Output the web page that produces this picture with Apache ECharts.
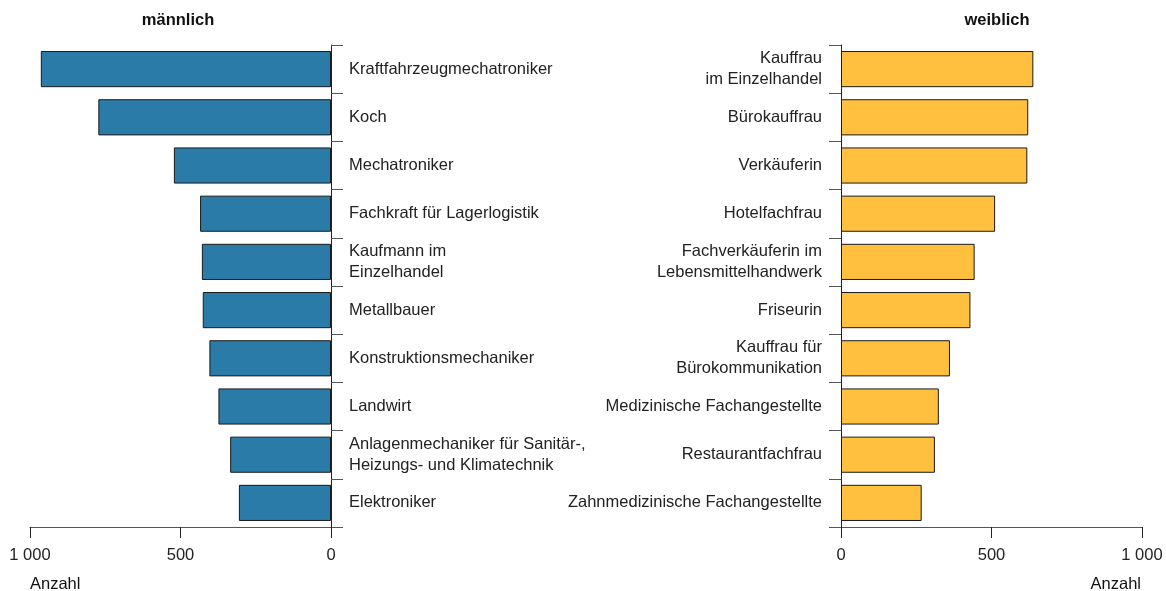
<!DOCTYPE html>
<html>
<head>
<meta charset="utf-8">
<script src="https://cdn.jsdelivr.net/npm/echarts@6/dist/echarts.min.js"></script>
<style>
  html, body { margin: 0; padding: 0; background: #fff; }
  #chart { width: 1166px; height: 591px; }
</style>
</head>
<body>
<div id="chart"></div>
<script>
// Ausbildungsberufe – männlich
const maleJobs = [
  'Kraftfahrzeugmechatroniker',
  'Koch',
  'Mechatroniker',
  'Fachkraft für Lagerlogistik',
  'Kaufmann im\nEinzelhandel',
  'Metallbauer',
  'Konstruktionsmechaniker',
  'Landwirt',
  'Anlagenmechaniker für Sanitär-,\nHeizungs- und Klimatechnik',
  'Elektroniker'
]
const maleValues = [964, 773, 522, 435, 429, 426, 404, 374, 335, 306]

// Ausbildungsberufe – weiblich
const femaleJobs = [
  'Kauffrau\nim Einzelhandel',
  'Bürokauffrau',
  'Verkäuferin',
  'Hotelfachfrau',
  'Fachverkäuferin im\nLebensmittelhandwerk',
  'Friseurin',
  'Kauffrau für\nBürokommunikation',
  'Medizinische Fachangestellte',
  'Restaurantfachfrau',
  'Zahnmedizinische Fachangestellte'
]
const femaleValues = [639, 622, 619, 512, 444, 430, 362, 325, 312, 268]

const axisTicks = [0, 500, 1000]

const fontFamily = '"Liberation Sans", Arial, sans-serif'
const fontSize = 16.5
const axisColor = '#555'

const fmt = (v) => v >= 1000 ? String(v).replace(/(\d)(\d{3})$/, '$1 $2') : String(v)

const valueAxis = (gridIndex, inverse) => ({
  type: 'value',
  gridIndex,
  inverse,
  min: axisTicks[0],
  max: axisTicks[axisTicks.length - 1],
  interval: axisTicks[1] - axisTicks[0],
  position: 'bottom',
  axisLine: { show: true, lineStyle: { color: axisColor, width: 1 } },
  axisTick: { show: true, length: 11, lineStyle: { color: '#222' } },
  axisLabel: { margin: 20, color: '#222', fontSize, fontFamily, formatter: fmt },
  splitLine: { show: false }
})

const catAxis = (gridIndex, data, position, align, margin) => ({
  type: 'category',
  gridIndex,
  data,
  inverse: true,
  position,
  axisLine: { show: true, lineStyle: { color: '#222', width: 1 } },
  axisTick: { show: true, length: 12, lineStyle: { color: axisColor } },
  axisLabel: {
    margin,
    align,
    color: '#222',
    fontSize,
    lineHeight: 21,
    fontFamily
  },
  splitLine: { show: false }
})

const titleStyle = (weight) => ({ fontSize, fontWeight: weight, color: '#111', fontFamily })

const chart = echarts.init(document.getElementById('chart'), null, { renderer: 'canvas' })

chart.setOption({
  backgroundColor: '#fff',
  animation: false,
  title: [
    { text: 'männlich', left: 178, top: 12, padding: 0, textAlign: 'center', textStyle: titleStyle('bold') },
    { text: 'weiblich', left: 997, top: 12, padding: 0, textAlign: 'center', textStyle: titleStyle('bold') },
    { text: 'Anzahl', left: 30, top: 576, padding: 0, textStyle: titleStyle('normal') },
    { text: 'Anzahl', right: 25, top: 576, padding: 0, textStyle: titleStyle('normal') }
  ],
  grid: [
    { left: 30, right: 835, top: 45, bottom: 64 },
    { left: 841, right: 24, top: 45, bottom: 64 }
  ],
  xAxis: [valueAxis(0, true), valueAxis(1, false)],
  yAxis: [
    catAxis(0, maleJobs, 'right', 'left', 18),
    catAxis(1, femaleJobs, 'left', 'right', 19)
  ],
  series: [
    {
      name: 'männlich',
      type: 'bar',
      xAxisIndex: 0,
      yAxisIndex: 0,
      data: maleValues,
      barCategoryGap: '25%',
      itemStyle: { color: '#2a7ba8', borderColor: '#1a1a1a', borderWidth: 1 }
    },
    {
      name: 'weiblich',
      type: 'bar',
      xAxisIndex: 1,
      yAxisIndex: 1,
      data: femaleValues,
      barCategoryGap: '25%',
      itemStyle: { color: '#ffc040', borderColor: '#1a1a1a', borderWidth: 1 }
    }
  ]
})
</script>
</body>
</html>
